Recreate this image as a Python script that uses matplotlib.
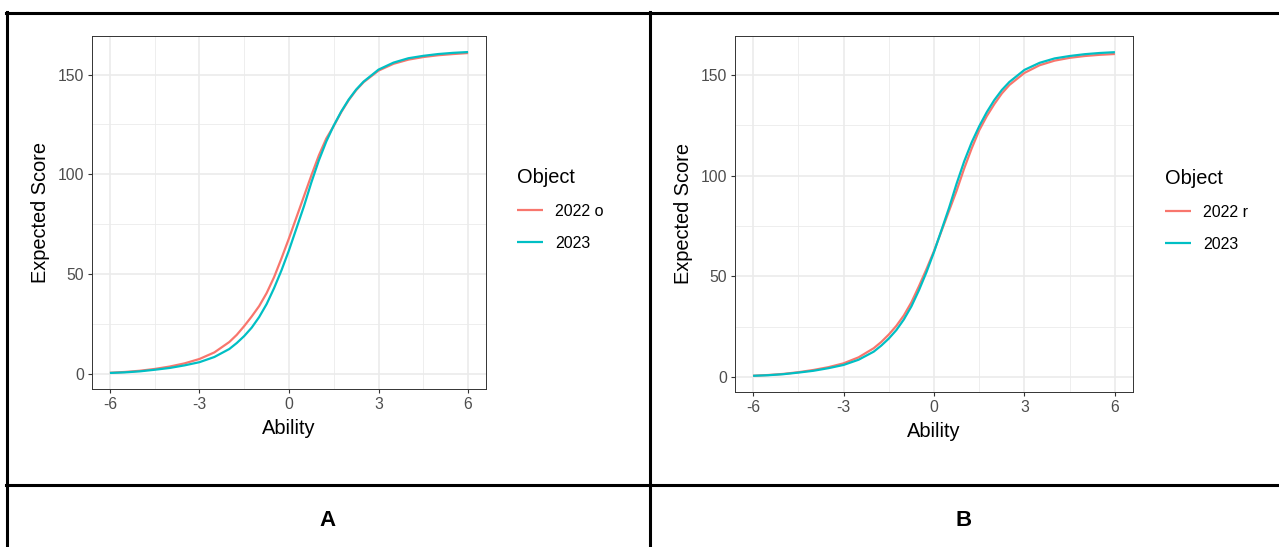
import matplotlib
matplotlib.use("Agg")
import matplotlib.pyplot as plt
from matplotlib.lines import Line2D

plt.rcParams["font.family"] = ["Liberation Sans", "DejaVu Sans"]

# ============================================================================
# Data
# ============================================================================
ABILITY = [-6, -5.5, -5, -4.5, -4, -3.5, -3, -2.5, -2, -1.75, -1.5, -1.25, -1,
           -0.75, -0.5, -0.25, 0, 0.25, 0.5, 0.75, 1, 1.25, 1.5, 1.75, 2,
           2.25, 2.5, 3, 3.5, 4, 4.5, 5, 5.5, 6]

SCORE_2023 = [0.5, 0.8, 1.3, 2.1, 3.0, 4.3, 5.9, 8.5, 12.5, 15.5, 19, 23.2, 28.5,
              35, 43, 52, 62, 73, 84, 96, 107, 116.5, 124.5, 131.5, 137.5,
              142.5, 146.5, 152.5, 156, 158.2, 159.4, 160.3, 160.9, 161.3]

SCORE_2022_O = [0.6, 1.0, 1.6, 2.5, 3.7, 5.3, 7.5, 10.8, 16, 19.6, 24, 28.8, 34,
                40.5, 48.5, 58, 68, 78.5, 89, 99.5, 109.5, 118, 124.3, 131.2, 137.2,
                142.2, 146.2, 152, 155.4, 157.5, 158.8, 159.7, 160.3, 160.8]

SCORE_2022_R = [0.55, 0.9, 1.45, 2.3, 3.4, 4.8, 6.7, 9.7, 14.2, 17.3, 21, 25.3, 30.5,
                37, 45, 53.5, 62.5, 72.5, 82.5, 92.5, 103.5, 113.5, 122.5, 129.5, 135.5,
                140.8, 145, 151, 154.8, 157.1, 158.5, 159.4, 160, 160.4]

X_TICKS = [-6, -3, 0, 3, 6]
X_MINOR = [-4.5, -1.5, 1.5, 4.5]
Y_TICKS = [0, 50, 100, 150]
Y_MINOR = [25, 75, 125]

PANELS = [
    {"label": "A", "series": [("2022 o", SCORE_2022_O), ("2023", SCORE_2023)]},
    {"label": "B", "series": [("2022 r", SCORE_2022_R), ("2023", SCORE_2023)]},
]

# ggplot default hue palette (2 levels)
COLORS = ["#F8766D", "#00BFC4"]

W, H = 1279, 547


def fx(px):
    return px / W


def fy(py):
    return 1 - py / H


def draw_panel(fig, rect, panel, legend_xy):
    left, top, right, bottom = rect
    ax = fig.add_axes([fx(left), fy(bottom), fx(right - left), (bottom - top) / H])

    for (name, values), color in zip(panel["series"], COLORS):
        ax.plot(ABILITY, values, color=color, linewidth=1.6, label=name,
                solid_capstyle="butt")

    # ggplot-like expansion of 5%
    all_vals = [v for _, vals in panel["series"] for v in vals]
    lo, hi = min(all_vals), max(all_vals)
    span = hi - lo
    ax.set_ylim(lo - 0.05 * span, hi + 0.05 * span)
    ax.set_xlim(-6.6, 6.6)

    ax.set_xticks(X_TICKS)
    ax.set_xticks(X_MINOR, minor=True)
    ax.set_yticks(Y_TICKS)
    ax.set_yticks(Y_MINOR, minor=True)
    ax.set_xticklabels([str(t) for t in X_TICKS])

    ax.grid(which="major", color="#EBEBEB", linewidth=1.2)
    ax.grid(which="minor", color="#EBEBEB", linewidth=0.6)
    ax.set_axisbelow(True)

    for sp in ax.spines.values():
        sp.set_color("#333333")
        sp.set_linewidth(0.7)

    ax.tick_params(which="major", length=3, width=0.8, color="#333333",
                   labelsize=11.3, labelcolor="#4D4D4D", pad=2.5)
    ax.tick_params(which="minor", length=0)

    ax.set_xlabel("Ability", fontsize=14.4, labelpad=5)
    ax.set_ylabel("Expected Score", fontsize=14.4, labelpad=6)

    leg = ax.legend(loc="upper left", bbox_to_anchor=(fx(legend_xy[0]), fy(legend_xy[1])),
                    bbox_transform=fig.transFigure, frameon=False, title="Object",
                    fontsize=11.5, title_fontsize=14.4, handlelength=1.6,
                    handletextpad=0.8, labelspacing=1.05, alignment="left",
                    borderaxespad=0, borderpad=0)
    for line in leg.get_lines():
        line.set_linewidth(1.6)
    return ax


def draw_table(fig):
    kw = dict(color="black", linewidth=2.2, transform=fig.transFigure)
    # top border and row separator
    fig.add_artist(Line2D([fx(6), 1], [fy(13), fy(13)], **kw))
    fig.add_artist(Line2D([fx(6), 1], [fy(485), fy(485)], **kw))
    # verticals
    fig.add_artist(Line2D([fx(7), fx(7)], [fy(12), 0], **kw))
    fig.add_artist(Line2D([fx(650), fx(650)], [fy(12), 0], **kw))


def main():
    fig = plt.figure(figsize=(W / 100, H / 100), dpi=100)
    fig.patch.set_facecolor("white")

    draw_panel(fig, (92, 36, 486, 389), PANELS[0], (517, 168))
    draw_panel(fig, (735, 36, 1133, 392), PANELS[1], (1165, 169))

    draw_table(fig)

    fig.text(fx(328), fy(520), PANELS[0]["label"], ha="center", va="center",
             fontsize=16, weight="bold")
    fig.text(fx(964), fy(520), PANELS[1]["label"], ha="center", va="center",
             fontsize=16, weight="bold")

    fig.savefig("out.png", dpi=100, facecolor="white")
    plt.close(fig)


if __name__ == "__main__":
    main()
